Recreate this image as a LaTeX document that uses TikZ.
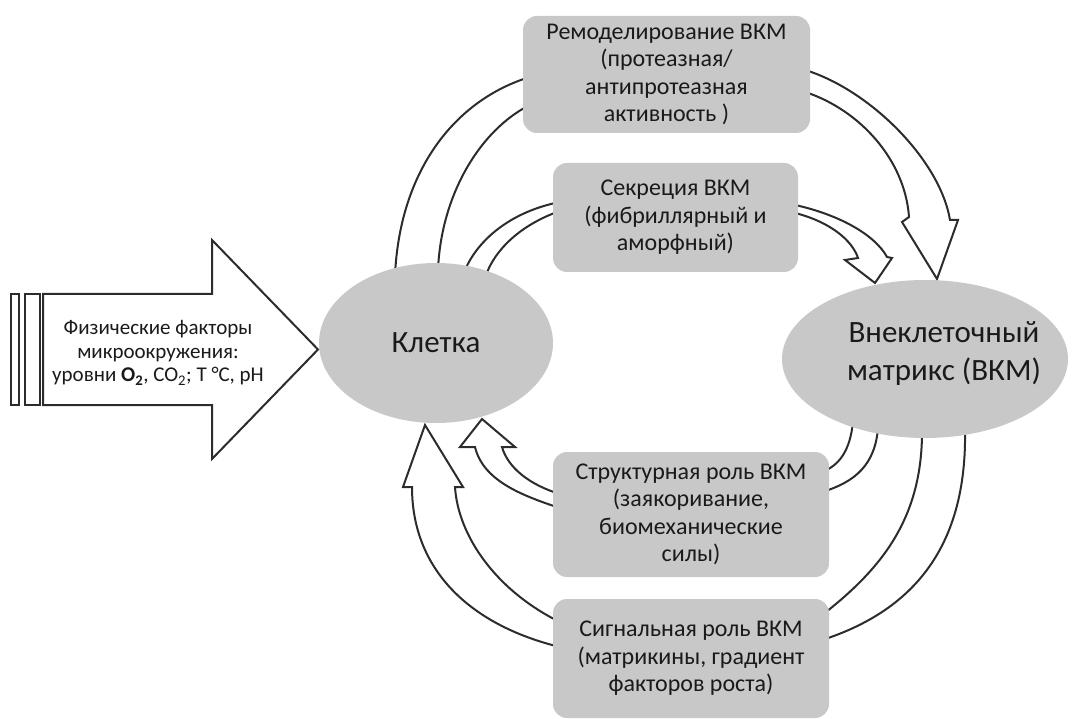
\documentclass[tikz,border=0pt]{standalone}
\usepackage{fontspec}
\setmainfont{Carlito}
\usetikzlibrary{shapes.geometric,calc}
\pgfdeclarelayer{bg}
\pgfsetlayers{bg,main}
\definecolor{linec}{HTML}{2C2C2C}
\definecolor{boxfill}{HTML}{C8C8C8}
\definecolor{txt}{HTML}{1A1A1A}
\begin{document}
\begin{tikzpicture}[x=1pt,y=-1pt,
  box/.style={draw=none, fill=boxfill, rounded corners=14pt, align=center, text=txt,
              font=\fontsize{24}{27.5}\selectfont, inner sep=0pt},
  ell/.style={ellipse, fill=boxfill, draw=none, inner sep=0pt, text=txt},
  band/.style={draw=linec, line width=2pt},
  barrow/.style={draw=linec, line width=2pt, fill=white, line join=miter, miter limit=6}]

\useasboundingbox (0,0) rectangle (1074,719);

% boxes
\node[box, minimum width=287pt, minimum height=117pt] (box1) at (666.5,74.5)
  {Ремоделирование ВКМ\\(протеазная/\\антипротеазная\\активность )};
\node[box, minimum width=245pt, minimum height=109pt] (box2) at (675.5,217.5)
  {Секреция ВКМ\\(фибриллярный и\\аморфный)};
\node[box, minimum width=276pt, minimum height=125pt] (box3) at (691,514.5)
  {Структурная роль ВКМ\\(заякоривание,\\биомеханические\\силы)};
\node[box, minimum width=276pt, minimum height=119pt] (box4) at (691,658.5)
  {Сигнальная роль ВКМ\\(матрикины, градиент\\факторов роста)};

% ellipses
\node[ell, minimum width=234pt, minimum height=160pt, font=\fontsize{31}{38}\selectfont] (cell) at (436,343) {Клетка};
\node[ell, minimum width=286pt, minimum height=158pt] (ecm) at (925,359) {};
\node[text=txt, align=center, font=\fontsize{31}{38}\selectfont, inner sep=0pt] (ecmtext) at (944,354)
  {Внеклеточный\\матрикс (ВКМ)};

% physical factors arrow
\draw[barrow] (11,294) rectangle (19,405);
\draw[barrow] (25,294) rectangle (40,405);
\draw[barrow] (43,294) -- (212,294) -- (212,240) -- (318,349.5) -- (212,459) -- (212,405) -- (43,405) -- cycle;
\node[text=txt, align=center, font=\fontsize{21}{23.5}\selectfont, inner sep=0pt] (phys) at (158,353)
  {Физические факторы\\микроокружения:\\уровни \textbf{O\textsubscript{2}}, CO\textsubscript{2}; T °C, pH};

\begin{pgfonlayer}{bg}
% 1: cell -> remodelling -> ECM
\draw[band] ($(cell.center)+(-41,-68)$) .. controls (400,170) and (455,100) .. ($(box1.west)+(7,2.5)$);
\draw[band] ($(cell.center)+(2,-73)$) .. controls (441,195) and (480,130) .. ($(box1.west)+(7,30.5)$);
\draw[barrow] ($(box1.east)+(-5,-4.5)$) .. controls (870,90) and (940,160) .. (950,220)
  -- (958,220) -- ($(ecm.center)+(12,-80)$) -- (902,222) -- (909,217)
  .. controls (905,160) and (860,110) .. ($(box1.east)+(-5,17.5)$);

% 2: cell -> secretion -> ECM
\draw[band] ($(cell.center)+(29,-73)$) .. controls (478,240) and (510,212) .. ($(box2.west)+(7,-15.5)$);
\draw[band] ($(cell.center)+(50,-68)$) .. controls (495,250) and (520,225) .. ($(box2.west)+(7,-6.5)$);
\draw[barrow] ($(box2.east)+(-3,-12.5)$) .. controls (840,215) and (875,235) .. (887,257)
  -- (892,258) -- ($(ecm.center)+(-50,-76)$) -- (845,260) -- (858,258)
  .. controls (852,240) and (830,222) .. ($(box2.east)+(-3,-4.5)$);

% 3: ECM -> structural role -> cell
\draw[band] ($(ecm.center)+(-72,63)$) .. controls (850,450) and (840,465) .. ($(box3.east)+(-7,-42.5)$);
\draw[band] ($(ecm.center)+(-47,69)$) .. controls (875,465) and (855,482) .. ($(box3.east)+(-7,-22.5)$);
\draw[barrow] ($(box3.west)+(7,-6.5)$) .. controls (520,495) and (483,480) .. (475,447)
  -- (460,447) -- ($(cell.center)+(46,76)$) -- (515,447) -- (502,447)
  .. controls (508,468) and (530,485) .. ($(box3.west)+(7,-20.5)$);

% 4: ECM -> signalling role -> cell
\draw[band] ($(ecm.center)+(-3,73)$) .. controls (922,520) and (880,570) .. ($(box4.east)+(-7,-43.5)$);
\draw[band] ($(ecm.center)+(40,71)$) .. controls (967,545) and (915,610) .. ($(box4.east)+(-7,-18.5)$);
\draw[barrow] ($(box4.west)+(7,-11.5)$) .. controls (470,625) and (412,570) .. (412,487)
  -- (403,487) -- ($(cell.center)+(-11,82)$) -- (463,487) -- (455,487)
  .. controls (458,535) and (495,590) .. ($(box4.west)+(7,-36.5)$);
\end{pgfonlayer}
\end{tikzpicture}
\end{document}
